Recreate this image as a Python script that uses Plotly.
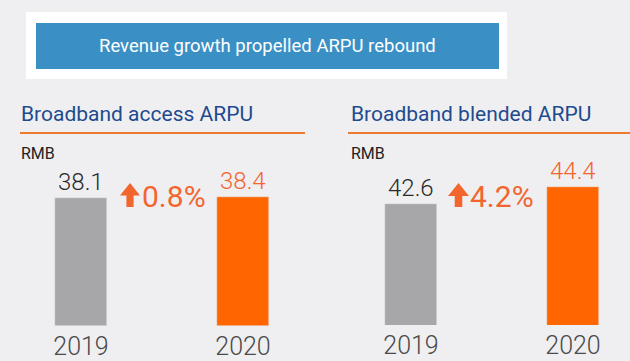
import plotly.graph_objects as go

years = ["2019", "2020"]
access_arpu = [38.1, 38.4]
blended_arpu = [42.6, 44.4]
access_growth = "0.8%"
blended_growth = "4.2%"
banner_title = "Revenue growth propelled ARPU rebound"
panel_titles = ["Broadband access ARPU", "Broadband blended ARPU"]
unit_label = "RMB"

W, H = 630, 361
FONT = "Roboto"
BG = "#EFEFF1"
GRAY = "#A7A6A8"
ORANGE = "#FF6600"
LABEL_ORANGE = "#F2662E"
NAVY = "#1E4B8E"
LINE_ORANGE = "#EC7A2C"


def px(x):
    return x / W


def py(y):
    return 1 - y / H


fig = go.Figure()
fig.add_trace(go.Bar(x=years, y=access_arpu, marker_color=[GRAY, ORANGE],
                     width=0.32, xaxis="x", yaxis="y", hoverinfo="skip"))
fig.add_trace(go.Bar(x=years, y=blended_arpu, marker_color=[GRAY, ORANGE],
                     width=0.32, xaxis="x2", yaxis="y2", hoverinfo="skip"))

ybot, ytop = 326, 140
ybot2 = 325
common_x = dict(type="category", showgrid=False, zeroline=False, showline=False,
                ticks="", tickfont=dict(family=FONT, size=25, color="#4A4A4A", weight=300),
                ticklabelstandoff=3, fixedrange=True)
common_y = dict(showgrid=False, zeroline=False, showline=False, showticklabels=False,
                fixedrange=True)

fig.update_layout(
    width=W, height=H, margin=dict(l=0, r=0, t=0, b=0),
    paper_bgcolor=BG, plot_bgcolor="rgba(0,0,0,0)", showlegend=False,
    bargap=0,
    xaxis=dict(domain=[0, px(315)], range=[-0.5, -0.5 + 315 / 162], anchor="y", **common_x),
    yaxis=dict(domain=[py(ybot), py(ytop)], range=[0, (ybot - ytop) / 3.36], anchor="x", **common_y),
    xaxis2=dict(domain=[px(334), 1], range=[-(411 - 334) / 162, -(411 - 334) / 162 + 296 / 162],
                anchor="y2", **common_x),
    yaxis2=dict(domain=[py(ybot2), py(ytop)], range=[29.8, 29.8 + (ybot2 - ytop) / 9.44],
                anchor="x2", **common_y),
)

shapes = [
    dict(type="rect", xref="paper", yref="paper", x0=px(26), x1=px(507), y0=py(79), y1=py(12),
         fillcolor="white", line_width=0, layer="below"),
    dict(type="rect", xref="paper", yref="paper", x0=px(36), x1=px(499), y0=py(69), y1=py(23),
         fillcolor="#3A8FC5", line_width=0, layer="below"),
    dict(type="line", xref="paper", yref="paper", x0=px(20), x1=px(305), y0=py(133), y1=py(133),
         line=dict(color=LINE_ORANGE, width=2)),
    dict(type="line", xref="paper", yref="paper", x0=px(348), x1=px(630), y0=py(133), y1=py(133),
         line=dict(color=LINE_ORANGE, width=2)),
]


def arrow(x0, top, bottom, w):
    cx = x0 + w / 2
    hb = top + w * 0.62
    sw = w * 0.36
    pts = [(cx, top), (x0 + w, hb), (cx + sw / 2, hb), (cx + sw / 2, bottom),
           (cx - sw / 2, bottom), (cx - sw / 2, hb), (x0, hb)]
    path = "M " + " L ".join(f"{px(a):.5f},{py(b):.5f}" for a, b in pts) + " Z"
    return dict(type="path", xref="paper", yref="paper", path=path,
                fillcolor=LABEL_ORANGE, line_width=0)


shapes.append(arrow(120, 183, 207, 20))
shapes.append(arrow(448, 183, 207, 21))
fig.update_layout(shapes=shapes)

ann = [
    dict(text=banner_title, xref="paper", yref="paper", x=px(267), y=py(46),
         font=dict(family=FONT, size=18.5, color="white")),
    dict(text=panel_titles[0], xref="paper", yref="paper", x=px(19), y=py(114), xanchor="left",
         font=dict(family=FONT, size=21, color=NAVY)),
    dict(text=panel_titles[1], xref="paper", yref="paper", x=px(349), y=py(114), xanchor="left",
         font=dict(family=FONT, size=21, color=NAVY)),
    dict(text=unit_label, xref="paper", yref="paper", x=px(19), y=py(154), xanchor="left",
         font=dict(family=FONT, size=16, color="#222")),
    dict(text=unit_label, xref="paper", yref="paper", x=px(349), y=py(154), xanchor="left",
         font=dict(family=FONT, size=16, color="#222")),
    dict(text=access_growth, xref="paper", yref="paper", x=px(140), y=py(196), xanchor="left",
         font=dict(family=FONT, size=30, color=LABEL_ORANGE)),
    dict(text=blended_growth, xref="paper", yref="paper", x=px(468), y=py(196), xanchor="left",
         font=dict(family=FONT, size=30, color=LABEL_ORANGE)),
]
for a in ann:
    a.setdefault("xanchor", "center")
    a.setdefault("yanchor", "middle")
for xa, ya, vals in (("x", "y", access_arpu), ("x2", "y2", blended_arpu)):
    for i, v in enumerate(vals):
        ann.append(dict(text=f"{v:.1f}", xref=xa, yref=ya, x=i, y=v, yanchor="bottom",
                        xanchor="center", yshift=0,
                        font=dict(family=FONT, size=24, weight=300,
                                  color="#2A2A2A" if i == 0 else LABEL_ORANGE)))
for a in ann:
    a.setdefault("showarrow", False)
fig.update_layout(annotations=ann)

fig.write_html("out.html", config={"displayModeBar": False},
               post_script="document.body.style.margin='0';document.body.style.overflow='hidden';")
